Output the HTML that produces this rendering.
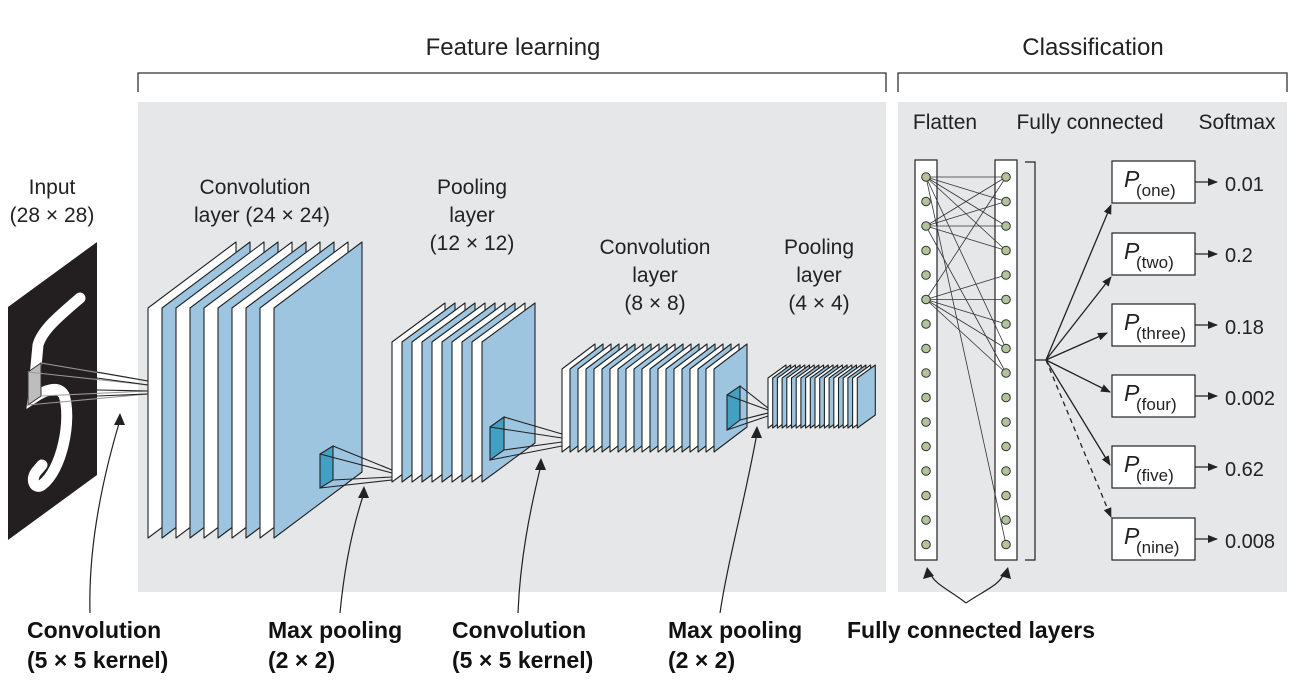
<!DOCTYPE html>
<html><head><meta charset="utf-8">
<style>
html,body{margin:0;padding:0;background:#fff;}
svg{display:block;}
.t{font-family:"Liberation Sans",sans-serif;font-size:21px;fill:#222;}
.b{font-family:"Liberation Sans",sans-serif;font-size:23px;font-weight:bold;fill:#111;}
</style></head>
<body>
<svg id="s" width="1314" height="690" viewBox="0 0 1314 690" xmlns="http://www.w3.org/2000/svg">
<rect x="138" y="102" width="748" height="490" fill="#e6e7e9"/>
<rect x="898" y="102" width="389" height="490" fill="#e6e7e9"/>
<path d="M138,92 V73 H886 V92 M898,92 V73 H1287 V92" fill="none" stroke="#333" stroke-width="1.3"/>
<text class="t" x="513" y="55" text-anchor="middle" style="font-size:24px">Feature learning</text>
<text class="t" x="1093" y="55" text-anchor="middle" style="font-size:24px">Classification</text>
<g class="t" text-anchor="middle">
<text x="52" y="194">Input</text><text x="52" y="222">(28 × 28)</text>
<text x="255" y="194">Convolution</text><text x="262" y="222">layer (24 × 24)</text>
<text x="472" y="194">Pooling</text><text x="472" y="222">layer</text><text x="472" y="250">(12 × 12)</text>
<text x="655" y="254">Convolution</text><text x="655" y="282">layer</text><text x="655" y="310">(8 × 8)</text>
<text x="819" y="254">Pooling</text><text x="819" y="282">layer</text><text x="819" y="310">(4 × 4)</text>
<text x="945" y="129">Flatten</text><text x="1090" y="129">Fully connected</text><text x="1237" y="129">Softmax</text>
</g>
<!-- input -->
<polygon points="8,307 97,242 97,475 8,540" fill="#231f20"/>
<path d="M80,298 C60,315 42,330 38,345 L33,398 C45,390 58,385 64,395 C72,420 62,470 42,485 C35,490 30,480 36,472 L42,465" fill="none" stroke="#fff" stroke-width="11" stroke-linecap="round"/>
<polygon points="28,372 41,363 41,396 28,405" fill="#bdbdbd" stroke="#333" stroke-width="1"/>
<g id="slices"></g>
<g id="fc"></g>
<g fill="none" stroke="#222" stroke-width="1.2">
<path d="M90,613 C88,540 105,470 120,420"/>
<path d="M340,613 C345,560 355,520 364,493"/>
<path d="M518,613 C520,560 530,510 541,465"/>
<path d="M720,613 C728,560 745,500 757,433"/>
<path d="M966,603 C950,590 935,585 930,573"/>
<path d="M966,603 C985,590 1000,585 1004,573"/>
</g>
<g fill="#222">
<polygon points="120,413 114,425 125,425"/>
<polygon points="364,486 358,498 369,498"/>
<polygon points="541,458 535,470 546,470"/>
<polygon points="757,426 751,438 762,438"/>
<polygon points="927,567 923,579 934,576"/>
<polygon points="1008,567 1000,576 1011,579"/>
</g>
<g class="b">
<text x="27" y="638">Convolution</text><text x="27" y="668">(5 × 5 kernel)</text>
<text x="268" y="638">Max pooling</text><text x="268" y="668">(2 × 2)</text>
<text x="452" y="638">Convolution</text><text x="452" y="668">(5 × 5 kernel)</text>
<text x="668" y="638">Max pooling</text><text x="668" y="668">(2 × 2)</text>
<text x="847" y="638">Fully connected layers</text>
</g>
<g class="t" style="font-size:20px">
<text x="1225" y="191">0.01</text><text x="1225" y="262">0.2</text><text x="1225" y="334">0.18</text>
<text x="1225" y="405">0.002</text><text x="1225" y="476">0.62</text><text x="1225" y="548">0.008</text>
</g>
</svg>
<script>
var NS="http://www.w3.org/2000/svg";
function el(p,tag,a){var e=document.createElementNS(NS,tag);for(var k in a)e.setAttribute(k,a[k]);p.appendChild(e);return e;}
var g=document.getElementById("slices");
var BL="#9dc5df";
function stack(x0,n,dx,top,w,dy,h){
  for(var i=0;i<n;i++){var x=x0+i*dx;
    el(g,"polygon",{points:x+","+top+" "+(x+w)+","+(top-dy)+" "+(x+w)+","+(top-dy+h)+" "+x+","+(top+h),
      fill:(i%2==0&&i!=n-1)?"#fff":BL,stroke:"#222","stroke-width":"1.1","stroke-linejoin":"round"});}
}
function line(x1,y1,x2,y2,c){el(g,"line",{x1:x1,y1:y1,x2:x2,y2:y2,stroke:c||"#222","stroke-width":"1.1"});}
line(41,363,148,381,"#999");line(28,372,148,385,"#999");line(41,396,148,391,"#999");line(28,405,148,394,"#999");
line(97,372,148,381);line(97,378,148,385);line(97,390,148,391);line(97,396,148,394);
stack(148,10,14,308,88,66,230);
el(g,"polygon",{points:"320,454 333,446 333,480 320,488",fill:"#44a0c3",stroke:"#222","stroke-width":"1.1"});
line(333,446,392,470);line(320,454,392,473);line(333,480,392,477);line(320,488,392,480);
stack(392,10,10,342,53,39,140);
el(g,"polygon",{points:"490,427 504,417 504,450 490,460",fill:"#44a0c3",stroke:"#222","stroke-width":"1.1"});
line(504,417,562,434);line(490,427,562,438);line(504,450,562,442);line(490,460,562,446);
stack(562,20,8,369,33,25,83);
el(g,"polygon",{points:"727,395 740,386 740,420 727,430",fill:"#44a0c3",stroke:"#222","stroke-width":"1.1"});
line(740,386,768,408);line(727,395,768,410);line(740,420,768,413);line(727,430,768,416);
stack(768,20,4.7,378,18,13,50);
var f=document.getElementById("fc");
el(f,"rect",{x:915,y:160,width:22,height:400,fill:"#fff",stroke:"#222","stroke-width":"1.2"});
el(f,"rect",{x:995,y:160,width:22,height:400,fill:"#fff",stroke:"#222","stroke-width":"1.2"});
el(f,"path",{d:"M1025,162 H1035 V560 H1025 M1035,360 H1046",fill:"none",stroke:"#222","stroke-width":"1.2"});
function cy(i){return 177+i*24.5;}
var conns=[[0,0],[0,1],[0,2],[0,3],[0,15],[2,0],[2,1],[2,2],[2,3],[2,8],[5,0],[5,4],[5,5],[5,6],[5,7],[5,8],[0,7]];
conns.forEach(function(c){el(f,"line",{x1:926,y1:cy(c[0]),x2:1006,y2:cy(c[1]),stroke:"#333","stroke-width":"0.8"});});
for(var i=0;i<16;i++){el(f,"circle",{cx:926,cy:cy(i),r:4.3,fill:"#b4c49a",stroke:"#333","stroke-width":"1"});
 el(f,"circle",{cx:1006,cy:cy(i),r:4.3,fill:"#b4c49a",stroke:"#333","stroke-width":"1"});}
var tops=[161,233,304,375,446,518],labs=["(one)","(two)","(three)","(four)","(five)","(nine)"];
var ends=[[1111,205],[1111,277],[1107,333],[1110,392],[1110,465],[1111,517]];
var defs=el(f,"defs",{});var m=el(defs,"marker",{id:"ah",markerWidth:"10",markerHeight:"8",refX:"9",refY:"4",orient:"auto",markerUnits:"userSpaceOnUse"});
el(m,"polygon",{points:"0,0 10,4 0,8",fill:"#222"});
for(var i=0;i<6;i++){var t=tops[i];
 el(f,"rect",{x:1112,y:t,width:83,height:42,fill:"#fff",stroke:"#222","stroke-width":"1.2"});
 var tx=el(f,"text",{x:1124,y:t+26,"class":"t",style:"font-size:23px;font-style:italic"});tx.textContent="P";
 var sb=el(f,"text",{x:1136,y:t+35,"class":"t",style:"font-size:17px"});sb.textContent=labs[i];
 el(f,"line",{x1:1195,y1:t+21,x2:1217,y2:t+21,stroke:"#222","stroke-width":"1.2","marker-end":"url(#ah)"});
 var a={x1:1046,y1:360,x2:ends[i][0],y2:ends[i][1],stroke:"#222","stroke-width":"1.3","marker-end":"url(#ah)"};
 if(i==5)a["stroke-dasharray"]="5,4";
 el(f,"line",a);}
</script>
</body></html>
